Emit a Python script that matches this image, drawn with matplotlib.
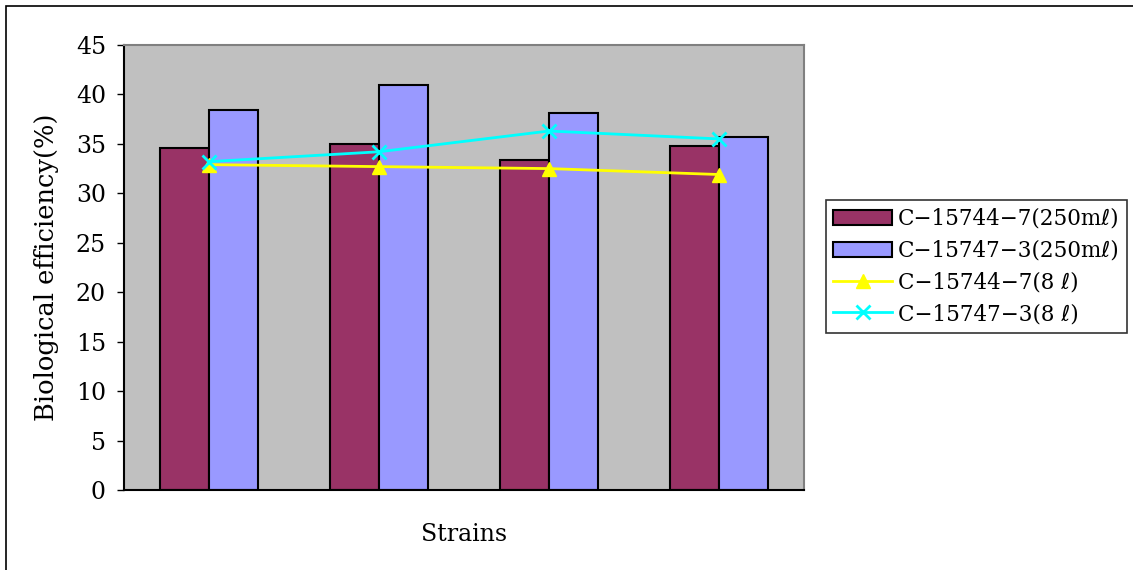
import matplotlib.pyplot as plt
import numpy as np
from matplotlib.patches import Rectangle

# DejaVu Serif has no script-l (ℓ), so fall back to DejaVu Sans for it
plt.rcParams['font.family'] = ['DejaVu Serif', 'DejaVu Sans']

strains = ['1', '2', '3', '4']
flask_15744 = [34.6, 35.0, 33.4, 34.8]
flask_15747 = [38.4, 41.0, 38.1, 35.7]
bottle_15744 = [32.9, 32.7, 32.5, 31.9]
bottle_15747 = [33.2, 34.2, 36.3, 35.5]
series_labels = ['C−15744−7(250mℓ)', 'C−15747−3(250mℓ)',
                 'C−15744−7(8 ℓ)', 'C−15747−3(8 ℓ)']

fig = plt.figure(figsize=(11.33, 5.7), dpi=100)
ax = fig.add_axes([0.1094, 0.1404, 0.6002, 0.7807])
ax.set_facecolor('#C0C0C0')

x = np.arange(len(strains))
w = 0.288
b1 = ax.bar(x - w / 2, flask_15744, w, color='#993366', edgecolor='black',
            linewidth=1.5, label=series_labels[0], zorder=2)
b2 = ax.bar(x + w / 2, flask_15747, w, color='#9999FF', edgecolor='black',
            linewidth=1.5, label=series_labels[1], zorder=2)
l1, = ax.plot(x, bottle_15744, color='#FFFF00', marker='^', markersize=10,
              linewidth=2, label=series_labels[2], zorder=3)
l2, = ax.plot(x, bottle_15747, color='#00FFFF', marker='x', markersize=10,
              markeredgewidth=2, linewidth=2, label=series_labels[3], zorder=4)

ax.set_xlim(-0.5, 3.5)
ax.set_ylim(0, 45)
ax.set_yticks(np.arange(0, 46, 5))
ax.set_xticks([])
ax.tick_params(axis='y', direction='out', length=5, width=1, labelsize=17,
               pad=8)
for s in ax.spines.values():
    s.set_color('#808080')
    s.set_linewidth(1.5)
ax.spines['left'].set_color('black')
ax.spines['bottom'].set_color('black')

ax.set_xlabel('Strains', fontsize=17, labelpad=24)
ax.set_ylabel('Biological efficiency(%)', fontsize=18.5, labelpad=12)

leg = fig.legend(handles=[b1, b2, l1, l2], loc='center left',
                 bbox_to_anchor=(0.729, 0.5325), fontsize=15.5, frameon=True,
                 fancybox=False, edgecolor='black', handlelength=2.7,
                 handleheight=0.7, labelspacing=0.45, borderpad=0.35,
                 handletextpad=0.3, borderaxespad=0)
leg.get_frame().set_linewidth(1.2)

# outer chart frame
fig.patches.append(Rectangle((0.005, -0.01), 1.2, 1.0, transform=fig.transFigure,
                             fill=False, edgecolor='black', linewidth=1.2))

fig.savefig('out.png', dpi=100)
